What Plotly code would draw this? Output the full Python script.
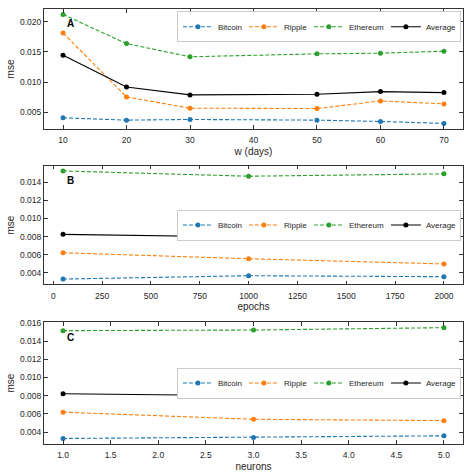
import plotly.graph_objects as go

# ---- data ----
w_days = [10, 20, 30, 50, 60, 70]
a_bitcoin = [0.00407, 0.00368, 0.00379, 0.00368, 0.00346, 0.00313]
a_ripple = [0.01813, 0.00753, 0.00566, 0.00560, 0.00687, 0.00637]
a_ethereum = [0.02120, 0.01637, 0.01418, 0.01467, 0.01478, 0.01511]
a_average = [0.01445, 0.00918, 0.00786, 0.00797, 0.00841, 0.00824]

epochs = [50, 1000, 2000]
b_bitcoin = [0.00331, 0.00368, 0.00357]
b_ripple = [0.00621, 0.00555, 0.00498]
b_ethereum = [0.01523, 0.01465, 0.01491]
b_average = [0.00824, 0.00795, 0.00780]

neurons = [1, 3, 5]
c_bitcoin = [0.00330, 0.00341, 0.00359]
c_ripple = [0.00619, 0.00541, 0.00526]
c_ethereum = [0.01515, 0.01522, 0.01548]
c_average = [0.00822, 0.00800, 0.00811]

series_names = ["Bitcoin", "Ripple", "Ethereum", "Average"]
colors = ["#1f77b4", "#ff7f0e", "#2ca02c", "#000000"]
legend_widths = [21, 20, 32, 29]

a_ticks = [10, 20, 30, 40, 50, 60, 70]
b_ticks = [0, 250, 500, 750, 1000, 1250, 1500, 1750, 2000]
c_ticks = [1.0, 1.5, 2.0, 2.5, 3.0, 3.5, 4.0, 4.5, 5.0]
a_yticks = [0.005, 0.010, 0.015, 0.020]
b_yticks = [0.004, 0.006, 0.008, 0.010, 0.012, 0.014]
c_yticks = [0.004, 0.006, 0.008, 0.010, 0.012, 0.014, 0.016]

panels = [
    ("A", w_days, [a_bitcoin, a_ripple, a_ethereum, a_average], "w (days)", a_ticks, a_yticks, "%g"),
    ("B", epochs, [b_bitcoin, b_ripple, b_ethereum, b_average], "epochs", b_ticks, b_yticks, "%g"),
    ("C", neurons, [c_bitcoin, c_ripple, c_ethereum, c_average], "neurons", c_ticks, c_yticks, "%.1f"),
]

FONT = "Liberation Sans, Arial, sans-serif"
TXT = "#262626"
FRAME = "#333333"

W, H = 469, 475
ml, mr, mt, mb = 44, 5, 9, 27
ph = H - mt - mb
# panel pixel extents (top, bottom)
pix = [(9, 130), (167, 287), (325, 448)]
domains = [[(H - mb - b) / ph, (H - mb - t) / ph] for t, b in pix]

legend_pos = [
    dict(x=0.995, y=domains[0][1] - 0.005, yanchor="top"),
    dict(x=0.995, y=(domains[1][0] + domains[1][1]) / 2, yanchor="middle"),
    dict(x=0.995, y=(domains[2][0] + domains[2][1]) / 2, yanchor="middle"),
]


def padded(vals):
    lo, hi = min(vals), max(vals)
    s = hi - lo
    return [lo - 0.05 * s, hi + 0.05 * s]


fig = go.Figure()
layout = dict(
    width=W, height=H,
    margin=dict(l=ml, r=mr, t=mt, b=mb),
    paper_bgcolor="white", plot_bgcolor="white",
    font=dict(family=FONT, size=9, color=TXT),
    showlegend=True,
    annotations=[],
)

for i, (label, xs, ys, xtitle, xt, yt, xfmt) in enumerate(panels):
    n = "" if i == 0 else str(i + 1)
    xa, ya = "x" + n, "y" + n
    lg = "legend" + n
    for name, vals, col, lw in zip(series_names, ys, colors, legend_widths):
        fig.add_trace(go.Scatter(
            x=xs, y=vals, name=name, mode="lines+markers",
            xaxis=xa, yaxis=ya, legend=lg, legendwidth=lw,
            line=dict(color=col, width=1.1, dash="solid" if name == "Average" else "4px,2px"),
            marker=dict(color=col, size=5),
        ))
    allv = [v for s in ys for v in s]
    common = dict(
        showline=True, linecolor=FRAME, linewidth=1.2, mirror="ticks",
        ticks="inside", ticklen=3.5, tickwidth=1, tickcolor=FRAME,
        showgrid=False, zeroline=False,
        tickfont=dict(family=FONT, size=8.5, color=TXT),
    )
    layout["xaxis" + n] = dict(
        common, domain=[0, 1], anchor=ya, range=padded(xs),
        tickvals=xt, ticktext=[xfmt % v for v in xt], ticklabelstandoff=3,
        title=dict(text=xtitle, font=dict(family=FONT, size=10, color=TXT), standoff=3),
    )
    layout["yaxis" + n] = dict(
        common, domain=domains[i], anchor=xa, range=padded(allv),
        tickvals=yt, ticktext=["%.3f" % v for v in yt],
        title=dict(text="mse", font=dict(family=FONT, size=10, color=TXT), standoff=3),
    )
    layout[lg] = dict(
        legend_pos[i], xanchor="right", xref="paper", yref="paper",
        orientation="h", bgcolor="white", bordercolor="#cccccc", borderwidth=1,
        font=dict(family=FONT, size=8, color=TXT), itemwidth=30,
        tracegroupgap=0,
    )
    layout["annotations"].append(dict(
        text="<b>%s</b>" % label, xref=xa + " domain", yref=ya + " domain",
        x=0.05, y=0.875, xanchor="left", yanchor="middle", showarrow=False,
        font=dict(family=FONT, size=10, color="#000000"),
    ))

fig.update_layout(**layout)
fig.write_html("out.html")
